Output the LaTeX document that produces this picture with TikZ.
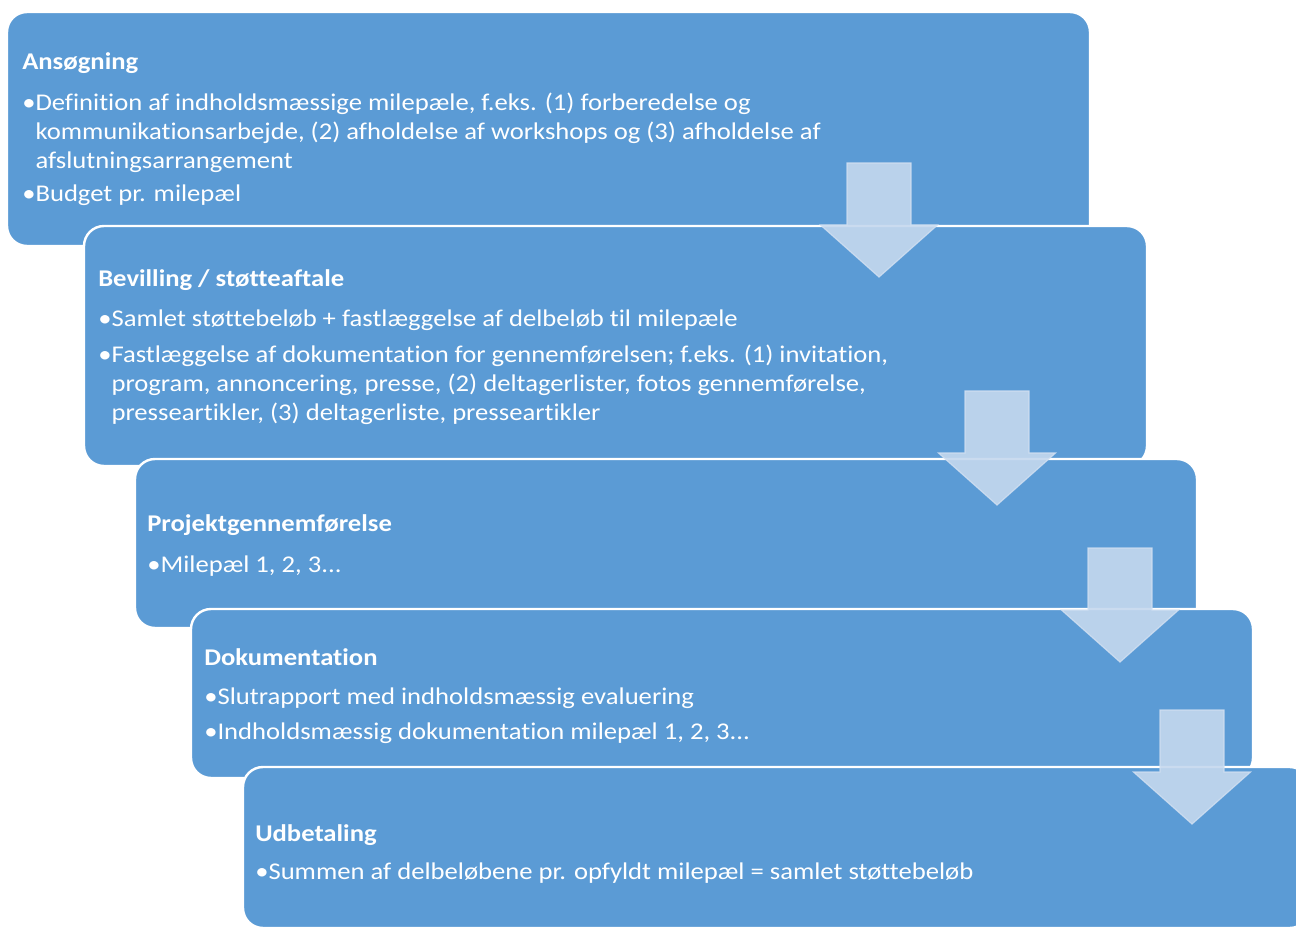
\documentclass[tikz,border=0pt]{standalone}
\usepackage{fontspec}
\setmainfont{Carlito}[FakeStretch=1.11, Ligatures=NoCommon]
\definecolor{boxblue}{HTML}{5B9BD5}
\definecolor{arrowfill}{HTML}{C5D8EE}
\definecolor{arrowline}{HTML}{D3E1F2}
\begin{document}
\begin{tikzpicture}[x=0.75pt,y=-0.75pt,
  box/.style={draw=white, line width=1.8pt, fill=boxblue, rounded corners=15pt,
    anchor=north west, inner sep=0pt, outer sep=0pt},
  titletext/.style={anchor=base west, inner sep=0pt, text=white,
    font=\fontsize{18}{21.75}\selectfont\bfseries},
  itemtext/.style={anchor=base west, inner sep=0pt, text=white,
    font=\fontsize{18}{21.75}\selectfont},
  arrowshape/.style={fill=arrowfill, fill opacity=0.9, draw=arrowline, line width=0.9pt, draw opacity=0.8},
  blockarrow/.pic={
    \path[arrowshape] (-32,-114) -- (32,-114) -- (32,-52) -- (58.5,-52) -- (0,0)
      -- (-58.5,-52) -- (-32,-52) -- cycle;
  }]
\useasboundingbox (0,0) rectangle (1296,930);
\clip (0,0) rectangle (1296,930);

% boxes
\node[box, minimum width=812.25pt, minimum height=175.5pt] (b1) at (7,12) {};
\node[box, minimum width=797.25pt, minimum height=180pt] (b2) at (84,226) {};
\node[box, minimum width=796.5pt, minimum height=126.75pt] (b3) at (135,459) {};
\node[box, minimum width=796.5pt, minimum height=126.75pt] (b4) at (191,609) {};
\node[box, minimum width=800pt, minimum height=120.75pt] (b5) at (243,767) {};

% texts box 1
\node[titletext] (t1) at (22,70) {Ansøgning};
\node[itemtext] (t1a) at (22,111) {•\begin{tabular}[t]{@{}l@{}}Definition af indholdsmæssige milepæle, f.eks. (1) forberedelse og\\kommunikationsarbejde, (2) afholdelse af workshops og (3) afholdelse af\\afslutningsarrangement\end{tabular}};
\node[itemtext] (t1b) at (22,202) {•Budget pr. milepæl};

% texts box 2
\node[titletext] (t2) at (98,287) {Bevilling / støtteaftale};
\node[itemtext] (t2a) at (98,327) {•Samlet støttebeløb + fastlæggelse af delbeløb til milepæle};
\node[itemtext] (t2b) at (98,363) {•\begin{tabular}[t]{@{}l@{}}Fastlæggelse af dokumentation for gennemførelsen; f.eks. (1) invitation,\\program, annoncering, presse, (2) deltagerlister, fotos gennemførelse,\\presseartikler, (3) deltagerliste, presseartikler\end{tabular}};

% texts box 3
\node[titletext] (t3) at (147,531) {Projektgennemførelse};
\node[itemtext] (t3a) at (147,572) {•Milepæl 1, 2, 3...};

% texts box 4
\node[titletext] (t4) at (204,665) {Dokumentation};
\node[itemtext] (t4a) at (204,704) {•Slutrapport med indholdsmæssig evaluering};
\node[itemtext] (t4b) at (204,739) {•Indholdsmæssig dokumentation milepæl 1, 2, 3...};

% texts box 5
\node[titletext] (t5) at (255,841) {Udbetaling};
\node[itemtext] (t5a) at (255,879) {•Summen af delbeløbene pr. opfyldt milepæl = samlet støttebeløb};

% arrows
\coordinate (a1) at (879,277);
\coordinate (a2) at (997,505);
\coordinate (a3) at (1120,662);
\coordinate (a4) at (1192,824);
\pic at (a1) {blockarrow};
\pic at (a2) {blockarrow};
\pic at (a3) {blockarrow};
\pic at (a4) {blockarrow};
\end{tikzpicture}
\end{document}
